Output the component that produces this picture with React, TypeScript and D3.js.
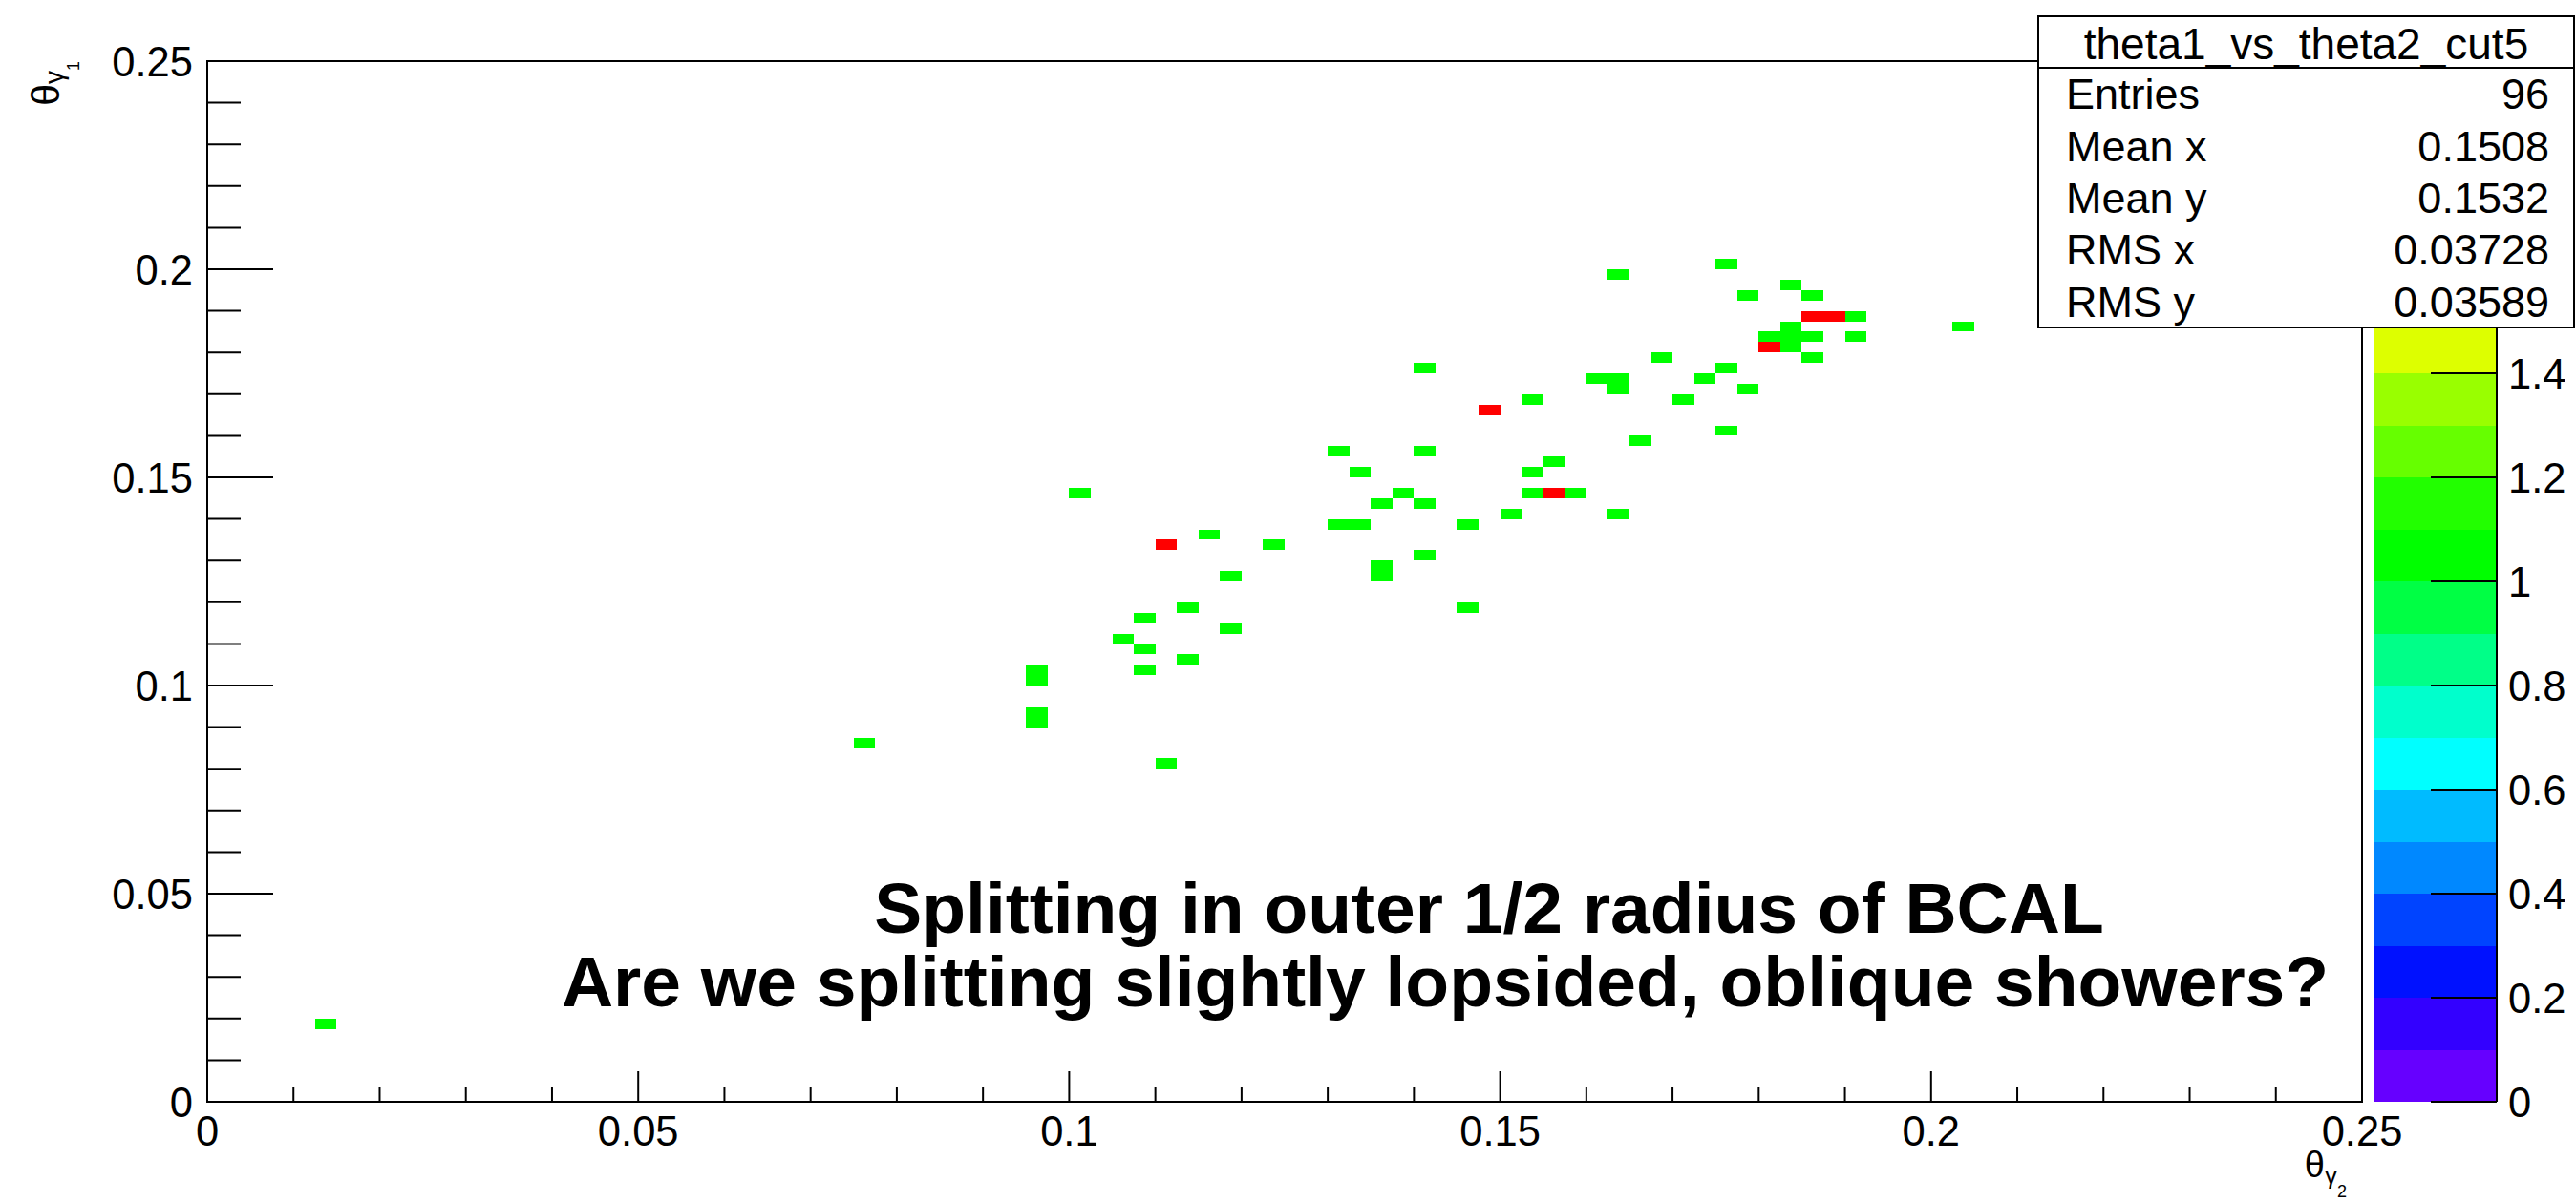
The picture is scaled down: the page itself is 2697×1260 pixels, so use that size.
import React from "react";
import * as d3 from "d3";

// ---- data: 2D histogram bins (lower edges, bin width 0.0025), theta_gamma2 (x) vs theta_gamma1 (y)
const BIN_W = 0.0025;
const binX: number[] = [
  0.0125, 0.075, 0.095, 0.095, 0.095, 0.095, 0.1075, 0.105, 0.1075, 0.1075, 0.1125, 0.11, 0.1175,
  0.14, 0.1525, 0.13, 0.14, 0.1325, 0.1525, 0.1, 0.1375, 0.1525, 0.135, 0.14, 0.15, 0.13, 0.1325,
  0.145, 0.115, 0.1225, 0.14, 0.135, 0.135, 0.1175, 0.1125, 0.145, 0.175, 0.1625, 0.1825, 0.1775,
  0.185, 0.19, 0.1825, 0.2025, 0.18, 0.1825, 0.185, 0.19, 0.1825, 0.185, 0.1675, 0.175, 0.16,
  0.1625, 0.1625, 0.1725, 0.1775, 0.17, 0.175, 0.165, 0.155, 0.1575, 0.1625,
  0.1475, 0.11, 0.185, 0.1875, 0.18, 0.155,
];
const binY: number[] = [
  0.0175, 0.085, 0.09, 0.0925, 0.1, 0.1025, 0.115, 0.11, 0.1075, 0.1025, 0.105, 0.08, 0.1125,
  0.175, 0.1675, 0.155, 0.155, 0.15, 0.15, 0.145, 0.145, 0.145, 0.1425, 0.1425, 0.14, 0.1375, 0.1375,
  0.1375, 0.135, 0.1325, 0.13, 0.125, 0.1275, 0.125, 0.1175, 0.1175, 0.2, 0.1975, 0.195, 0.1925,
  0.1925, 0.1875, 0.185, 0.185, 0.1825, 0.1825, 0.1825, 0.1825, 0.18, 0.1775, 0.1775, 0.175, 0.1725,
  0.1725, 0.17, 0.1725, 0.17, 0.1675, 0.16, 0.1575, 0.1525, 0.145, 0.14,
  0.165, 0.1325, 0.1875, 0.1875, 0.18, 0.145,
];
const binCount: number[] = [
  1, 1, 1, 1, 1, 1, 1, 1, 1, 1, 1, 1, 1,
  1, 1, 1, 1, 1, 1, 1, 1, 1, 1, 1, 1, 1, 1,
  1, 1, 1, 1, 1, 1, 1, 1, 1, 1, 1, 1, 1,
  1, 1, 1, 1, 1, 1, 1, 1, 1, 1, 1, 1, 1,
  1, 1, 1, 1, 1, 1, 1, 1, 1, 1,
  2, 2, 2, 2, 2, 2,
];

// palette levels (0 -> 2 in 20 steps)
const paletteColors: string[] = [
  "#6600ff", "#3300ff", "#0011ff", "#0044ff", "#0088ff", "#00bbff", "#00ffff", "#00ffcc", "#00ff88", "#00ff44",
  "#00ff00", "#22ff00", "#66ff00", "#99ff00", "#ddff00", "#ffee00", "#ffbb00", "#ff8800", "#ff4400", "#ff0000",
];
const zTicks: number[] = [0, 0.2, 0.4, 0.6, 0.8, 1, 1.2, 1.4, 1.6, 1.8, 2];
const axisMajor: number[] = [0, 0.05, 0.1, 0.15, 0.2, 0.25];

const statsTitle = "theta1_vs_theta2_cut5";
const statsLabels: string[] = ["Entries", "Mean x", "Mean y", "RMS x", "RMS y"];
const statsValues: string[] = ["96", "0.1508", "0.1532", "0.03728", "0.03589"];

const noteLine1 = "Splitting in outer 1/2 radius of BCAL";
const noteLine2 = "Are we splitting slightly lopsided, oblique showers?";

const FONT = "'Liberation Sans', Arial, Helvetica, sans-serif";

export default function App() {
  const W = 2697, H = 1260;
  const fL = 217, fR = 2473, fT = 64, fB = 1154;
  const x = d3.scaleLinear().domain([0, 0.25]).range([fL, fR]);
  const y = d3.scaleLinear().domain([0, 0.25]).range([fB, fT]);
  const zMin = 0, zMax = 2;
  const color = d3.scaleQuantize<string>().domain([zMin, zMax]).range(paletteColors);
  const z = d3.scaleLinear().domain([zMin, zMax]).range([fB, fT]);
  const cbL = 2485, cbR = 2614;
  const fmt = (v: number) => String(+v.toFixed(3));

  const minor = x.ticks(25);
  const levels = d3.range(paletteColors.length).map((i) => zMin + (i * (zMax - zMin)) / paletteColors.length);
  const step = (zMax - zMin) / paletteColors.length;

  // stats box
  const sbL = 2134, sbR = 2695, sbT = 17, sbSep = 71, sbB = 343;
  const rowH = (sbB - sbSep) / statsLabels.length;

  return (
    <svg width={W} height={H} style={{ position: "absolute", left: 0, top: 0, background: "#fff" }} fontFamily={FONT}>
      <rect x={0} y={0} width={W} height={H} fill="#fff" />
      {/* bins */}
      {binX.map((bx, i) => (
        <rect
          key={i}
          x={x(bx)}
          y={y(binY[i] + BIN_W)}
          width={x(bx + BIN_W) - x(bx)}
          height={y(binY[i]) - y(binY[i] + BIN_W)}
          fill={color(binCount[i])}
          shapeRendering="crispEdges"
        />
      ))}
      {/* frame */}
      <rect x={fL} y={fT} width={fR - fL} height={fB - fT} fill="none" stroke="#000" strokeWidth={2} />
      {/* x ticks */}
      {minor.map((t, i) => {
        const major = axisMajor.some((m) => Math.abs(m - t) < 1e-9);
        return (
          <line key={"xt" + i} x1={x(t)} x2={x(t)} y1={fB} y2={fB - (major ? 32 : 16)} stroke="#000" strokeWidth={2} />
        );
      })}
      {/* y ticks */}
      {y.ticks(25).map((t, i) => {
        const major = axisMajor.some((m) => Math.abs(m - t) < 1e-9);
        return (
          <line key={"yt" + i} x1={fL} x2={fL + (major ? 69 : 35)} y1={y(t)} y2={y(t)} stroke="#000" strokeWidth={2} />
        );
      })}
      {/* x labels */}
      {axisMajor.map((t, i) => (
        <text key={"xl" + i} x={x(t)} y={1200} fontSize={43.5} textAnchor="middle" fill="#000">
          {fmt(t)}
        </text>
      ))}
      {/* y labels */}
      {axisMajor.map((t, i) => (
        <text key={"yl" + i} x={202} y={y(t) + 15.5} fontSize={43.5} textAnchor="end" fill="#000">
          {fmt(t)}
        </text>
      ))}
      {/* axis titles */}
      <text x={2457} y={1233} fontSize={38} textAnchor="end" fill="#000">
        θ
        <tspan fontSize={26} dy={7}>γ</tspan>
        <tspan fontSize={18} dy={14}>2</tspan>
      </text>
      <text transform="translate(62,64) rotate(-90)" fontSize={41} textAnchor="end" fill="#000">
        θ
        <tspan fontSize={28} dy={4}>γ</tspan>
        <tspan fontSize={18} dy={17}>1</tspan>
      </text>
      {/* colour bar */}
      {levels.map((lv, i) => (
        <rect
          key={"cb" + i}
          x={cbL}
          y={z(lv + step)}
          width={cbR - cbL}
          height={z(lv) - z(lv + step)}
          fill={paletteColors[i]}
          shapeRendering="crispEdges"
        />
      ))}
      <line x1={cbR} x2={cbR} y1={fT} y2={fB} stroke="#000" strokeWidth={2} />
      {zTicks.map((t, i) => (
        <g key={"zt" + i}>
          <line x1={2545} x2={cbR} y1={z(t)} y2={z(t)} stroke="#000" strokeWidth={2} />
          {z(t) > sbB + 20 && (
            <text x={2626} y={z(t) + 15.5} fontSize={43.5} fill="#000">
              {fmt(t)}
            </text>
          )}
        </g>
      ))}
      {/* annotation */}
      <text x={1559} y={977} fontSize={75} fontWeight="bold" textAnchor="middle" fill="#000">
        {noteLine1}
      </text>
      <text x={1513} y={1054} fontSize={75} fontWeight="bold" textAnchor="middle" fill="#000">
        {noteLine2}
      </text>
      {/* stats box */}
      <rect x={sbL} y={sbT} width={sbR - sbL} height={sbB - sbT} fill="#fff" stroke="#000" strokeWidth={2} />
      <line x1={sbL} x2={sbR} y1={sbSep} y2={sbSep} stroke="#000" strokeWidth={2} />
      <text x={(sbL + sbR) / 2} y={62} fontSize={46} textAnchor="middle" fill="#000">
        {statsTitle}
      </text>
      {statsLabels.map((lab, i) => (
        <g key={"st" + i}>
          <text x={2163} y={sbSep + rowH * (i + 0.5) + 16} fontSize={45} fill="#000">
            {lab}
          </text>
          <text x={2669} y={sbSep + rowH * (i + 0.5) + 16} fontSize={45} textAnchor="end" fill="#000">
            {statsValues[i]}
          </text>
        </g>
      ))}
    </svg>
  );
}
